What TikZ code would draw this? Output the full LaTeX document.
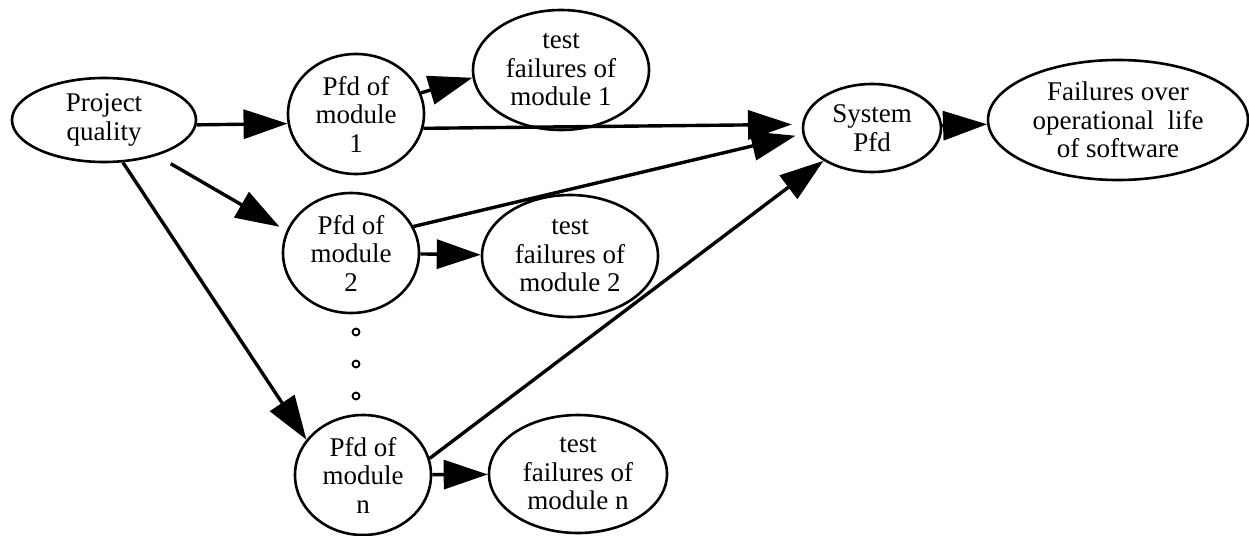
\documentclass[tikz,border=0pt]{standalone}
\usepackage{fontspec}
\setmainfont{Liberation Serif}
\newfontfamily\diagserif{Liberation Serif}
\usetikzlibrary{shapes.geometric,arrows.meta}
\begin{document}
\begin{tikzpicture}[x=1pt,y=-1pt,
  ell/.style={draw,ellipse,line width=2.6pt,inner sep=0pt,align=center,
    font=\diagserif\fontsize{27}{28.5}\selectfont},
  arr/.style={line width=3.4pt,-{Triangle[length=44pt,width=29pt]}},
  dotc/.style={draw,circle,line width=1.8pt,inner sep=0pt,minimum size=7pt}]
\useasboundingbox (0,0) rectangle (1249,535);
\node[ell,minimum width=184pt,minimum height=84pt] (pq) at (104,120) {Project\\quality};
\node[ell,minimum width=136pt,minimum height=120pt] (p1) at (356,114) {Pfd of\\module\\1};
\node[ell,minimum width=176pt,minimum height=120pt] (t1) at (561,70) {test\\failures of\\module 1};
\node[ell,minimum width=138pt,minimum height=88pt] (sys) at (872,128) {System\\Pfd};
\node[ell,minimum width=260pt,minimum height=120pt] (fail) at (1118,120) {Failures over\\operational\ \ life\\of software};
\node[ell,minimum width=136pt,minimum height=120pt] (p2) at (351,253) {Pfd of\\module\\2};
\node[ell,minimum width=176pt,minimum height=122pt] (t2) at (570,256) {test\\failures of\\module 2};
\node[ell,minimum width=136pt,minimum height=120pt] (pn) at (363,475) {Pfd of\\module\\n};
\node[ell,minimum width=178pt,minimum height=118pt] (tn) at (578,474) {test\\failures of\\module n};
\node[dotc] (d1) at (356,332) {};
\node[dotc] (d2) at (356,364) {};
\node[dotc] (d3) at (356,396) {};
\draw[arr] (pq.-3) -- (p1.188);
\draw[arr,shorten <=16pt,shorten >=8pt] (pq.-34) -- (p2.161);
\draw[arr] (pq.-66) -- (pn.148);
\draw[arr] (p1.18) -- (t1.185);
\draw[arr,shorten >=10pt] (p1.-12) -- (sys.177);
\draw[arr,shorten >=7pt] (p2.23) -- (sys.185);
\draw[arr] (pn.14) -- (sys.214);
\draw[arr] (p2) -- (t2);
\draw[arr] (pn) -- (tn);
\draw[arr] (sys) -- (fail);
\end{tikzpicture}
\end{document}
